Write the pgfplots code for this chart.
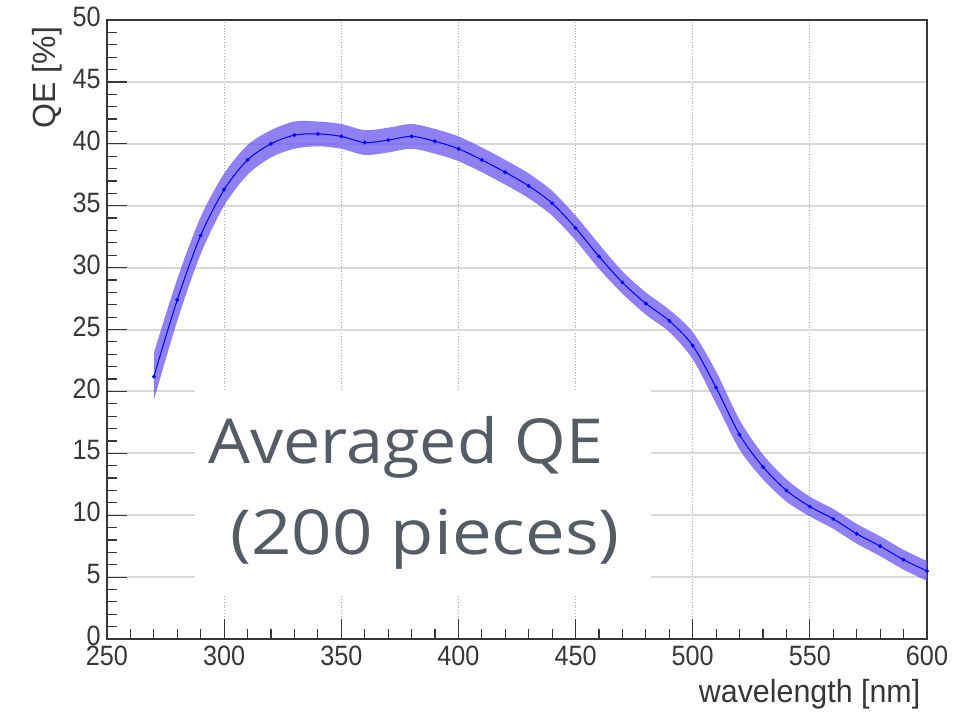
\documentclass[border=0pt]{standalone}
\usepackage{pgfplots}
\pgfplotsset{compat=1.18}
\usepgfplotslibrary{fillbetween}
\usepackage{pgfplotstable}
\usepackage{fontspec}
\setmainfont{Liberation Sans}
\newfontfamily\boxfont{Open Sans}
\definecolor{band}{RGB}{105,85,240}
\definecolor{txtgray}{RGB}{86,92,99}
\definecolor{axgray}{RGB}{55,55,55}

\pgfplotstableread{
x y e
270 21.2 1.9
280 27.4 1.7
290 32.6 1.5
300 36.3 1.3
310 38.7 1.2
320 40.0 1.1
330 40.7 1.1
340 40.8 1.0
350 40.6 1.0
360 40.1 1.0
370 40.3 1.0
380 40.6 1.0
390 40.2 1.0
400 39.6 1.0
410 38.7 1.0
420 37.7 1.0
430 36.6 1.0
440 35.2 1.0
450 33.2 1.0
460 30.9 1.0
470 28.8 0.9
480 27.1 0.9
490 25.7 0.9
500 23.7 1.1
510 20.3 1.3
520 16.5 1.2
530 13.9 1.0
540 12.0 0.9
550 10.7 0.8
560 9.7 0.8
570 8.5 0.8
580 7.5 0.8
590 6.4 0.8
600 5.5 0.8
}\qe

\begin{document}
\begin{tikzpicture}
\path (-53.5pt,-36pt) rectangle (433.5pt,319.5pt);
\begin{axis}[
  width=410pt, height=309.5pt, scale only axis,
  xmin=250, xmax=600, ymin=0, ymax=50,
  xtick={250,300,...,600}, ytick={0,5,...,50},
  minor x tick num=4, minor y tick num=4,
  tick pos=left, tick align=inside,
  major tick length=10pt, minor tick length=5pt,
  every tick/.append style={axgray, line width=0.6pt},
  axis line style={axgray, line width=0.9pt},
  xmajorgrids, ymajorgrids,
  x grid style={densely dotted, gray!70, line width=0.6pt},
  y grid style={gray!30, line width=1pt},
  /pgf/number format/assume math mode=true,
  ticklabel style={font=\fontsize{14}{14}\selectfont, text=axgray, xscale=0.9},
  yticklabel style={yshift=1.5pt},
  xlabel={wavelength [nm]}, ylabel={QE [\%]},
  label style={font=\fontsize{16}{16}\selectfont, text=axgray},
  xlabel style={at={(axis description cs:1,-0.089)}, anchor=east, xscale=0.95},
  ylabel style={at={(axis description cs:-0.073,1)}, anchor=east},
]
\addplot[name path=hi, draw=none, smooth, forget plot] table[x=x, y expr=\thisrow{y}+\thisrow{e}] {\qe};
\addplot[name path=lo, draw=none, smooth, forget plot] table[x=x, y expr=\thisrow{y}-\thisrow{e}] {\qe};
\addplot[fill=band, fill opacity=0.75, draw=none] fill between[of=hi and lo];
\addplot[blue, line width=0.5pt, smooth, mark=*, mark size=0.7pt] table[x=x, y=y] {\qe};
\fill[white] (axis cs:287.6,3.6) rectangle (axis cs:482.2,20.1);
\node[anchor=base west, inner sep=0pt, text=txtgray, xscale=1.07, font=\boxfont\fontsize{31}{31}\selectfont] at (axis cs:293.1,14.2) {Averaged QE};
\node[anchor=base west, inner sep=0pt, text=txtgray, xscale=1.14, font=\boxfont\fontsize{31}{31}\selectfont] at (axis cs:302.5,6.8) {(200 pieces)};
\end{axis}
\end{tikzpicture}
\end{document}
